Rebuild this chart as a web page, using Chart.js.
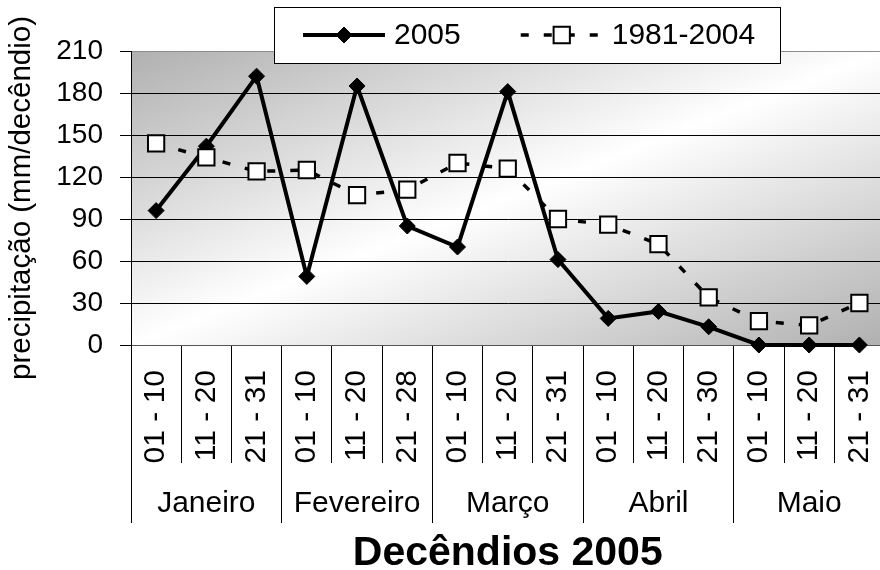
<!DOCTYPE html>
<html>
<head>
<meta charset="utf-8">
<title>Precipitação por decêndio 2005</title>
<script src="https://cdn.jsdelivr.net/npm/chart.js@4/dist/chart.umd.min.js"></script>
<style>
  html, body { margin: 0; padding: 0; background: #fff; width: 880px; height: 570px; overflow: hidden; }
  canvas { display: block; }
</style>
</head>
<body>
<canvas id="grafico" width="898" height="570"></canvas>
<script>
// Decêndios (10-day periods) of each month, January to May 2005
const decendios = ['01 - 10', '11 - 20', '21 - 31',
                   '01 - 10', '11 - 20', '21 - 28',
                   '01 - 10', '11 - 20', '21 - 31',
                   '01 - 10', '11 - 20', '21 - 30',
                   '01 - 10', '11 - 20', '21 - 31'];
const meses = ['Janeiro', 'Fevereiro', 'Março', 'Abril', 'Maio'];

// Rainfall per decêndio (mm)
const chuva2005 = [96, 142, 192, 49, 185, 85, 70, 181, 61, 19, 24, 13, 0, 0, 0];
const media19812004 = [144, 134, 124, 125, 107, 111, 130, 126, 90, 86, 72, 34, 17, 14, 30];

// Value axis ticks
const yTicks = [0, 30, 60, 90, 120, 150, 180, 210];

const FONTE = "'Liberation Sans', Arial, Helvetica, sans-serif";

// Diagonal grey-white-grey shading behind the plot
const fundoGrafico = {
  id: 'fundoGrafico',
  beforeDraw(chart) {
    const { ctx, chartArea: a } = chart;
    ctx.save();
    ctx.translate(a.left, a.top);
    ctx.scale(a.right - a.left, a.bottom - a.top);
    const g = ctx.createLinearGradient(0, 0, 1, 1);
    g.addColorStop(0, '#b0b0b0');
    g.addColorStop(0.5, '#ffffff');
    g.addColorStop(1, '#b0b0b0');
    ctx.fillStyle = g;
    ctx.fillRect(0, 0, 1, 1);
    ctx.restore();
  }
};

// Boxed legend laid over the top edge of the plot
const legendaCaixa = {
  id: 'legendaCaixa',
  afterDraw(chart, args, o) {
    const { ctx } = chart;
    ctx.save();
    ctx.fillStyle = '#fff';
    ctx.fillRect(o.left, o.top, o.width, o.height);
    ctx.strokeStyle = '#000';
    ctx.lineWidth = 1;
    ctx.strokeRect(o.left + 0.5, o.top + 0.5, o.width, o.height);

    const cy = o.top + o.height / 2;
    let x = o.left + o.padLeft;
    ctx.font = o.fontSize + 'px ' + FONTE;
    ctx.textBaseline = 'middle';
    ctx.textAlign = 'left';
    chart.data.datasets.forEach(ds => {
      // sample line
      ctx.save();
      ctx.strokeStyle = ds.borderColor;
      ctx.lineWidth = ds.borderWidth;
      ctx.setLineDash(ds.borderDash || []);
      ctx.beginPath();
      ctx.moveTo(x, cy);
      ctx.lineTo(x + o.sample, cy);
      ctx.stroke();
      ctx.restore();
      // marker
      ctx.save();
      ctx.fillStyle = ds.pointBackgroundColor;
      ctx.strokeStyle = ds.pointBorderColor;
      ctx.lineWidth = ds.pointBorderWidth;
      Chart.helpers.drawPoint(ctx, {
        pointStyle: ds.pointStyle, rotation: 0,
        radius: ds.pointRadius, borderWidth: ds.pointBorderWidth
      }, x + o.sample / 2, cy);
      ctx.restore();
      // text
      ctx.fillStyle = '#000';
      const tx = x + o.sample + o.textGap;
      ctx.fillText(ds.label, tx, cy + 1);
      x = tx + ctx.measureText(ds.label).width + o.itemGap;
    });
    ctx.restore();
  }
};

new Chart(document.getElementById('grafico'), {
  type: 'line',
  data: {
    labels: decendios,
    datasets: [
      {
        label: '2005',
        data: chuva2005,
        borderColor: '#000',
        borderWidth: 4,
        pointStyle: 'rectRot',
        pointRadius: 8,
        pointBackgroundColor: '#000',
        pointBorderColor: '#000',
        pointBorderWidth: 1,
        tension: 0,
        clip: false,
        order: 1
      },
      {
        label: '1981-2004',
        data: media19812004,
        borderColor: '#000',
        borderWidth: 3.5,
        borderDash: [8, 15],
        pointStyle: 'rect',
        pointRadius: 11.5,
        pointBackgroundColor: '#fff',
        pointBorderColor: '#000',
        pointBorderWidth: 2,
        tension: 0,
        clip: false,
        order: 0
      }
    ]
  },
  options: {
    responsive: false,
    animation: false,
    devicePixelRatio: 1,
    layout: { padding: { top: 51, left: 0, right: 0, bottom: 0 } },
    plugins: {
      legend: { display: false },
      tooltip: { enabled: false },
      legendaCaixa: {
        left: 274, top: 7, width: 506, height: 56,
        padLeft: 29, sample: 82, textGap: 9, itemGap: 60, fontSize: 30
      }
    },
    scales: {
      x: {
        type: 'category',
        position: 'bottom',
        offset: true,
        weight: 0,
        afterFit: s => { s.height = 118; },
        grid: { offset: true, drawOnChartArea: false, drawTicks: true, tickLength: 118, color: '#000', lineWidth: 1 },
        border: { display: true, color: '#555', width: 1 },
        ticks: {
          autoSkip: false, minRotation: 90, maxRotation: 90, padding: -93,
          font: { family: FONTE, size: 30 }, color: '#000'
        }
      },
      meses: {
        type: 'category',
        labels: meses,
        position: 'bottom',
        offset: true,
        weight: 1,
        afterFit: s => { s.height = 107; },
        grid: { offset: true, drawOnChartArea: false, drawTicks: true, tickLength: 60, color: '#000', lineWidth: 1 },
        border: { display: false },
        ticks: {
          autoSkip: false, minRotation: 0, maxRotation: 0, padding: -37,
          font: { family: FONTE, size: 30 }, color: '#000'
        },
        title: {
          display: true,
          text: 'Decêndios 2005',
          color: '#000',
          font: { family: FONTE, size: 41, weight: 'bold', lineHeight: 1 },
          padding: { top: 0, bottom: -4 }
        }
      },
      y: {
        min: 0,
        max: 210,
        afterBuildTicks: s => { s.ticks = yTicks.map(v => ({ value: v })); },
        afterFit: s => { s.width = 131; },
        grid: {
          color: c => (c.tick && c.tick.value === 210) ? '#8c8c8c' : (c.tick && c.tick.value === 0 ? '#555' : '#000'),
          tickColor: '#000',
          tickLength: 11,
          lineWidth: 1
        },
        border: { display: true, color: '#000', width: 1 },
        ticks: { padding: 17, font: { family: FONTE, size: 28 }, color: '#000' },
        title: {
          display: true,
          text: 'precipitação (mm/decêndio)',
          color: '#000',
          font: { family: FONTE, size: 29.5 },
          padding: { top: 4, bottom: 0 }
        }
      }
    }
  },
  plugins: [fundoGrafico, legendaCaixa]
});
</script>
</body>
</html>
